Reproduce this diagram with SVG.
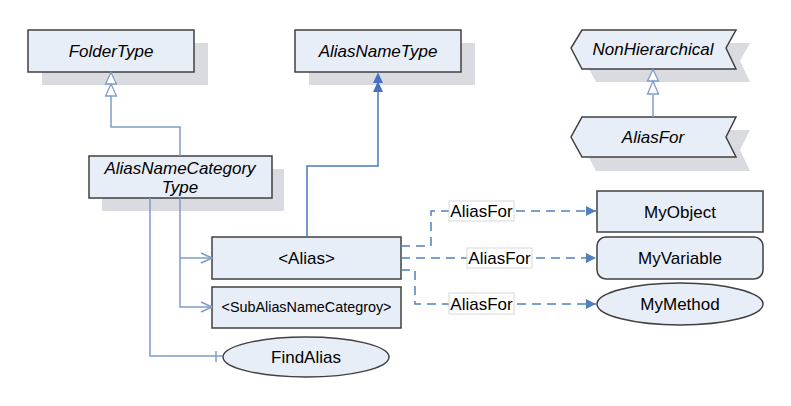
<svg xmlns="http://www.w3.org/2000/svg" width="791" height="406" viewBox="0 0 791 406">
<style>
.shadow{fill:#D9DBE0;stroke:none}
.node{fill:#E8EEF8;stroke:#404040;stroke-width:1.5}
.t{font-family:"Liberation Sans",Arial,sans-serif;font-size:17px;fill:#000;text-anchor:middle}
.i{font-style:italic}
.hier{fill:none;stroke:#7F9CC9;stroke-width:1.5}
.ref{fill:none;stroke:#4A78C0;stroke-width:1.5}
.dash{fill:none;stroke:#4F81BD;stroke-width:1.5;stroke-dasharray:9,6}
.lbl{fill:#fff;stroke:#D8D8D8;stroke-width:1}
</style>
<defs>
<marker id="filled" viewBox="0 0 10 10" refX="10" refY="5" markerWidth="10" markerHeight="10" markerUnits="userSpaceOnUse" orient="auto">
<path d="M0,0 L10,5 L0,10 Z" fill="#4F81BD"/>
</marker>
</defs>

<g id="FolderType">
<rect class="shadow" x="42" y="43" width="166" height="42"/>
<rect class="node" x="28" y="30" width="166" height="42"/>
<text class="t i" x="111" y="57">FolderType</text>
</g>

<g id="AliasNameType">
<rect class="shadow" x="309" y="43" width="166" height="42"/>
<rect class="node" x="295" y="30" width="166" height="42"/>
<text class="t i" x="378" y="57">AliasNameType</text>
</g>

<g id="NonHierarchical">
<path class="shadow" d="M596,43 L750,43 L740,61 L750,82 L596,82 L585,61 Z"/>
<path class="node" d="M582,30 L736,30 L726,48 L736,69 L582,69 L571,48 Z"/>
<text class="t i" x="653" y="55">NonHierarchical</text>
</g>

<g id="AliasFor">
<path class="shadow" d="M596,130 L750,130 L740,150 L750,171 L596,171 L585,150 Z"/>
<path class="node" d="M582,117 L736,117 L726,137 L736,157 L582,157 L571,137 Z"/>
<text class="t i" x="653" y="143">AliasFor</text>
</g>

<g id="AliasNameCategoryType">
<rect class="shadow" x="102" y="169" width="182" height="42"/>
<rect class="node" x="89" y="156" width="183" height="42"/>
<text class="t i" x="180" y="174">AliasNameCategory</text>
<text class="t i" x="180" y="193">Type</text>
</g>

<g id="Alias">
<rect class="node" x="212" y="237" width="189" height="42"/>
<text class="t" x="306.5" y="264">&lt;Alias&gt;</text>
</g>

<g id="SubAliasNameCategroy">
<rect class="node" x="212" y="287" width="189" height="41"/>
<text class="t" x="306.5" y="312" style="font-size:14.5px" textLength="170" lengthAdjust="spacingAndGlyphs">&lt;SubAliasNameCategroy&gt;</text>
</g>

<g id="FindAlias">
<ellipse class="node" cx="306" cy="357" rx="83" ry="20"/>
<text class="t" x="306" y="363">FindAlias</text>
</g>

<g id="MyObject">
<rect class="node" x="597" y="191" width="166" height="41"/>
<text class="t" x="680" y="218">MyObject</text>
</g>

<g id="MyVariable">
<rect class="node" x="597" y="237" width="166" height="42" rx="9" ry="9"/>
<text class="t" x="680" y="264">MyVariable</text>
</g>

<g id="MyMethod">
<ellipse class="node" cx="680" cy="304" rx="83" ry="21"/>
<text class="t" x="680" y="310">MyMethod</text>
</g>

<g id="connectors">
<!-- FolderType <- AliasNameCategoryType -->
<polyline class="hier" points="111,96 111,127 180,127 180,156"/>
<path d="M111,72.5 L105.5,84 L116.5,84 Z M111,84 L105.5,96 L116.5,96 Z" fill="#fff" stroke="#7F9CC9" stroke-width="1.3"/>
<!-- AliasNameType <- Alias -->
<polyline class="ref" points="378,91 378,166 307,166 307,237"/>
<path d="M378,72.5 L373,83 L383,83 Z M378,81 L373,92 L383,92 Z" fill="#4472C4"/>
<!-- NonHierarchical <- AliasFor -->
<line class="hier" x1="653" y1="95" x2="653" y2="117"/>
<path d="M653,69.5 L647.5,81 L658.5,81 Z M653,81 L647.5,94 L658.5,94 Z" fill="#fff" stroke="#7F9CC9" stroke-width="1.3"/>
<!-- ANCT -> Alias, SubAlias -->
<polyline class="hier" points="180,198 180,307 212,307"/>
<line class="hier" x1="180" y1="258" x2="212" y2="258"/>
<polyline class="hier" points="201,253 212,258 201,263"/>
<polyline class="hier" points="201,302 212,307 201,312"/>
<!-- ANCT -> FindAlias -->
<polyline class="hier" points="150,198 150,356 223,356"/>
<line class="hier" x1="216" y1="351" x2="216" y2="362"/>
<!-- AliasFor dashed -->
<polyline class="dash" points="401,246 431,246 431,211 596,211" marker-end="url(#filled)"/>
<polyline class="dash" points="401,258 596,258" marker-end="url(#filled)"/>
<polyline class="dash" points="401,270 415,270 415,304 596,304" marker-end="url(#filled)"/>
<rect class="lbl" x="449" y="201" width="65" height="20"/>
<text class="t" x="481.5" y="217">AliasFor</text>
<rect class="lbl" x="467" y="248" width="65" height="20"/>
<text class="t" x="499.5" y="264">AliasFor</text>
<rect class="lbl" x="449" y="293" width="65" height="21"/>
<text class="t" x="481.5" y="310">AliasFor</text>
</g>
</svg>
